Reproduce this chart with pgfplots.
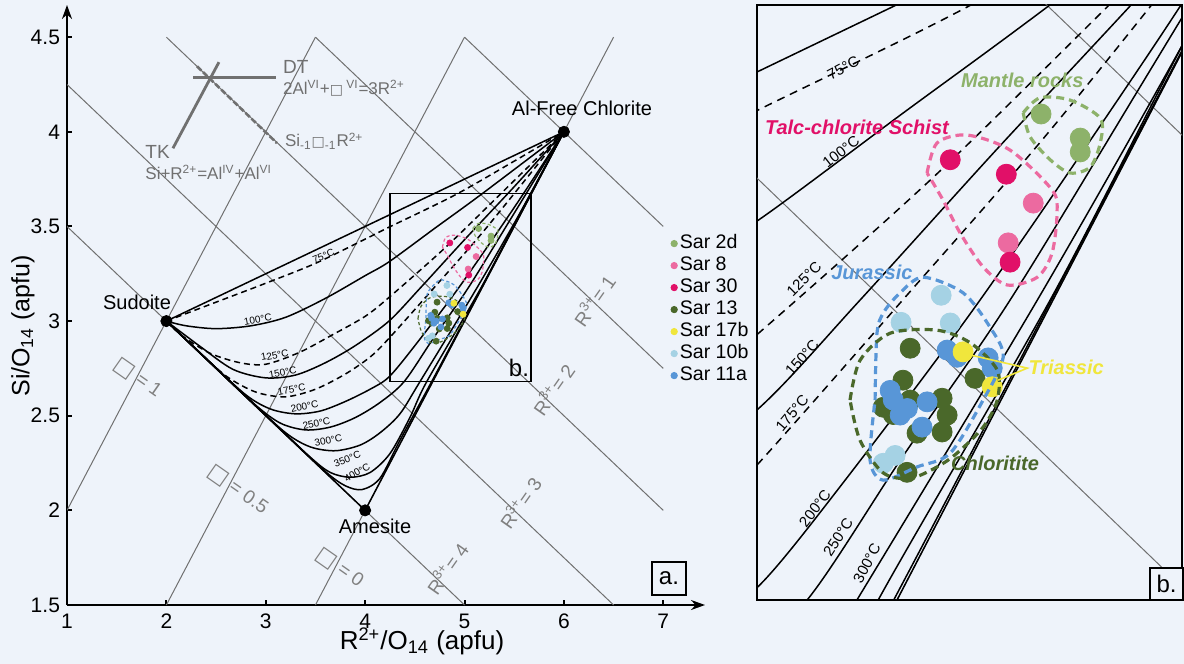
\documentclass[border=0pt]{standalone}
\usepackage{fontspec}
\setmainfont{Liberation Sans}
\newfontfamily\dejavu{DejaVu Sans}
\usepackage{pgfplots}
\usepackage{pgfplotstable}
\pgfplotsset{compat=1.18}
\usetikzlibrary{arrows.meta}

\definecolor{bg}{RGB}{238,243,250}
\definecolor{gl}{RGB}{112,112,112}
\definecolor{gt}{RGB}{128,128,128}
\definecolor{cA}{RGB}{141,178,106}
\definecolor{cB}{RGB}{236,106,160}
\definecolor{cC}{RGB}{225,16,104}
\definecolor{cD}{RGB}{74,104,42}
\definecolor{cE}{RGB}{240,230,60}
\definecolor{cF}{RGB}{165,210,228}
\definecolor{cG}{RGB}{88,150,215}
\newcommand{\sq}{{\dejavu □}}
\newcommand{\fs}[1]{\fontsize{#1}{#1}\selectfont}

% isotherms
\pgfplotstableread{
x y
2 3
6 4
}\tS
\pgfplotstableread{
x y
2 3
4 2
6 4
}\tE
\pgfplotstableread{
x y
2 3
2.5 3.1
3 3.2
3.5 3.305
4 3.433
4.24 3.496
4.9 3.665
5.5 3.845
6 4
}\tSF
\pgfplotstableread{
x y
2 3
2.2 2.975
2.5 2.96
2.85 2.975
3.2 3.02
3.6 3.12
4 3.24
4.24 3.313
4.7 3.49
5.17 3.67
6 4
}\tH
\pgfplotstableread{
x y
2 3
2.17 2.918
2.44 2.83
2.74 2.78
3 2.772
3.34 2.835
3.68 2.93
4 3.025
4.24 3.125
4.8 3.385
5.34 3.66
6 4
}\tHT
\pgfplotstableread{
x y
2 3
2.34 2.866
2.67 2.745
3 2.70
3.3 2.715
3.6 2.78
3.9 2.87
4.24 3.0
4.564 3.18
5 3.43
5.5 3.71
6 4
}\tHF
\pgfplotstableread{
x y
2 3
2.3 2.852
2.6 2.71
2.9 2.625
3.2 2.60
3.5 2.64
3.8 2.72
4.05 2.81
4.24 2.909
4.7 3.18
5.2 3.48
6 4
}\tHS
\pgfplotstableread{
x y
2 3
2.4 2.802
2.8 2.61
3.05 2.535
3.3 2.51
3.55 2.525
3.8 2.575
4.05 2.64
4.24 2.705
4.5 2.87
4.947 3.18
5.5 3.6
6 4
}\tTH
\pgfplotstableread{
x y
2 3
2.5 2.752
2.9 2.555
3.15 2.46
3.4 2.425
3.65 2.44
3.9 2.49
4.15 2.57
4.395 2.682
4.7 2.92
5.043 3.18
5.5 3.57
6 4
}\tTF
\pgfplotstableread{
x y
2 3
2.8 2.602
3.2 2.41
3.45 2.335
3.7 2.315
3.95 2.345
4.15 2.41
4.35 2.51
4.554 2.682
5.13 3.18
5.6 3.61
6 4
}\tTHH
\pgfplotstableread{
x y
2 3
3 2.502
3.45 2.28
3.65 2.2
3.85 2.175
4.05 2.2
4.25 2.3
4.45 2.49
4.622 2.682
5.171 3.18
5.6 3.61
6 4
}\tTFF
\pgfplotstableread{
x y
2 3
3.2 2.402
3.6 2.205
3.8 2.13
3.97 2.11
4.15 2.17
4.35 2.37
4.7 2.71
5.2 3.205
6 4
}\tFH

% envelopes
\pgfplotstableread{
x y
5.085 3.491
5.139 3.516
5.235 3.512
5.331 3.482
5.331 3.441
5.299 3.401
5.235 3.391
5.171 3.413
5.107 3.451
5.085 3.491
}\eM
\pgfplotstableread{
x y
4.778 3.391
4.810 3.441
4.906 3.454
5.043 3.429
5.177 3.363
5.193 3.325
5.177 3.258
5.130 3.218
5.034 3.205
4.957 3.235
4.884 3.291
4.829 3.346
4.778 3.391
}\eT
\pgfplotstableread{
x y
4.612 3.014
4.618 3.125
4.640 3.160
4.692 3.192
4.765 3.218
4.893 3.192
4.979 3.135
5.021 3.085
4.957 3.014
4.852 2.926
4.746 2.903
4.638 2.881
4.596 2.914
4.612 3.014
}\eJ
\pgfplotstableread{
x y
4.532 3.014
4.564 3.080
4.660 3.125
4.810 3.130
4.916 3.109
5.002 3.064
5.002 3.014
4.957 2.969
4.874 2.926
4.810 2.903
4.724 2.884
4.638 2.893
4.564 2.947
4.532 3.014
}\eC

% samples
\pgfplotstableread{
x y
5.142 3.489
5.267 3.449
5.267 3.426
}\sA
\pgfplotstableread{
x y
5.117 3.341
5.037 3.275
}\sB
\pgfplotstableread{
x y
4.852 3.413
5.031 3.389
5.043 3.243
}\sC
\pgfplotstableread{
x y
4.724 3.100
4.701 3.047
4.638 3.002
4.724 3.014
4.826 3.017
4.842 2.989
4.826 2.961
4.746 2.959
4.931 3.050
4.714 2.894
4.670 2.990
}\sD
\pgfplotstableread{
x y
4.893 3.094
4.986 3.036
}\sE
\pgfplotstableread{
x y
4.823 3.188
4.695 3.143
4.852 3.142
4.676 2.922
4.638 2.909
}\sF
\pgfplotstableread{
x y
4.842 3.097
4.874 3.085
4.973 3.084
4.986 3.067
4.670 3.014
4.692 2.989
4.778 3.011
4.762 2.969
4.715 3.000
4.660 3.030
}\sG

\pgfplotsset{
 iso/.style={black, line width=0.75pt, smooth, forget plot},
 isod/.style={iso, dash pattern=on 3pt off 2pt},
 gray line/.style={gl, line width=0.5pt, forget plot},
}

\newcommand{\isotherms}[1]{%
 \addplot[iso, sharp plot] table {\tS};
 \addplot[iso, sharp plot] table {\tE};
 \addplot[isod,#1] table {\tSF};
 \addplot[iso] table {\tH};
 \addplot[isod,#1] table {\tHT};
 \addplot[iso] table {\tHF};
 \addplot[isod,#1] table {\tHS};
 \addplot[iso] table {\tTH};
 \addplot[iso] table {\tTF};
 \addplot[iso] table {\tTHH};
 \addplot[iso] table {\tTFF};
 \addplot[iso] table {\tFH};
}
\newcommand{\graylines}{%
 \addplot[gray line] coordinates {(1,2) (3.5,4.5)};
 \addplot[gray line] coordinates {(2,1.5) (5,4.5)};
 \addplot[gray line] coordinates {(3.5,1.5) (6.5,4.5)};
 \addplot[gray line] coordinates {(5,4.5) (7,3.5)};
 \addplot[gray line] coordinates {(3.5,4.5) (7,2.75)};
 \addplot[gray line] coordinates {(2,4.5) (7,2)};
 \addplot[gray line] coordinates {(1,4.25) (6.5,1.5)};
 \addplot[gray line] coordinates {(1,3.5) (5,1.5)};
}
\newcommand{\samples}[1]{%
 \addplot[only marks, mark=*, mark size=#1, cD, forget plot] table {\sD};
 \addplot[only marks, mark=*, mark size=#1, cF, forget plot] table {\sF};
 \addplot[only marks, mark=*, mark size=#1, cG, forget plot] table {\sG};
 \addplot[only marks, mark=*, mark size=#1, cE, forget plot] table {\sE};
 \addplot[only marks, mark=*, mark size=#1, cA, forget plot] table {\sA};
 \addplot[only marks, mark=*, mark size=#1, cB, forget plot] table {\sB};
 \addplot[only marks, mark=*, mark size=#1, cC, forget plot] table {\sC};
}
\newcommand{\envelopes}[2]{%
 \addplot[cA, smooth, line width=#1, dash pattern=#2, forget plot] table {\eM};
 \addplot[cB, smooth, line width=#1, dash pattern=#2, forget plot] table {\eT};
 \addplot[cG, smooth, line width=#1, dash pattern=#2, forget plot] table {\eJ};
 \addplot[cD, smooth, line width=#1, dash pattern=#2, forget plot] table {\eC};
}

\begin{document}
\begin{tikzpicture}
\useasboundingbox (0,0) rectangle (592pt,-332pt);
\fill[bg] (0,0) rectangle (592pt,-332pt);

% ---------------- panel a ----------------
\begin{axis}[
 at={(33.5pt,-302.5pt)}, anchor=south west, scale only axis,
 width=319pt, height=300pt,
 xmin=1, xmax=7.42, ymin=1.5, ymax=4.67,
 axis lines=left,
 axis line style={line width=0.9pt, -{Stealth[length=7pt,width=5pt]}},
 xtick={1,2,3,4,5,6,7}, ytick={1.5,2,2.5,3,3.5,4,4.5},
 tick align=inside, major tick length=2.5pt,
 tick style={line width=1pt, black},
 ticklabel style={font=\fs{10.5}},
 xticklabel style={yshift=-1pt},
 /pgf/number format/assume math mode=true,
 clip mode=individual,
 legend style={at={(0.936,0.628)}, anchor=north west, draw=none, fill=none,
   font=\fs{9.8}, nodes={text height=7pt, text depth=2pt, inner sep=1pt},
   /tikz/every even column/.append style={column sep=5.5pt}},
 legend cell align=left,
 legend image code/.code={\fill[#1] (0pt,0pt) circle (1.6pt);},
]
\graylines
\isotherms{}
\addplot[only marks, mark=*, mark size=2.8pt, black, forget plot] coordinates {(2,3) (4,2) (6,4)};
\envelopes{0.6pt}{on 1.6pt off 1.2pt}
\samples{1.5pt}
\addplot[black, line width=0.6pt, sharp plot, forget plot] coordinates {(4.25,2.68) (5.67,2.68) (5.67,3.675) (4.25,3.675) (4.25,2.68)};
% DT / TK
\addplot[gl, line width=1.4pt, forget plot] coordinates {(2.066,3.913) (2.529,4.368)};
\addplot[gl, line width=1.4pt, forget plot] coordinates {(2.268,4.288) (3.103,4.288)};
\addplot[gl, line width=1.3pt, dash pattern=on 3pt off 1.2pt, forget plot] coordinates {(2.308,4.346) (3.113,3.94)};

\addlegendimage{cA}\addlegendentry{Sar 2d}
\addlegendimage{cB}\addlegendentry{Sar 8}
\addlegendimage{cC}\addlegendentry{Sar 30}
\addlegendimage{cD}\addlegendentry{Sar 13}
\addlegendimage{cE}\addlegendentry{Sar 17b}
\addlegendimage{cF}\addlegendentry{Sar 10b}
\addlegendimage{cG}\addlegendentry{Sar 11a}

\begin{scope}[every node/.style={text=gl, font=\fs{8.5}, inner sep=0pt}]
\node[anchor=west] at (axis cs:3.17,4.34) {\fs{9.5}DT};
\node[anchor=west] at (axis cs:3.17,4.23) {2Al\textsuperscript{VI}+{\fs{7}\sq}\textsuperscript{ VI}=3R\textsuperscript{2+}};
\node[anchor=west] at (axis cs:3.19,3.95) {Si\textsubscript{-1}{\fs{7}\sq}\textsubscript{-1}R\textsuperscript{2+}};
\node[anchor=west] at (axis cs:1.785,3.895) {\fs{9.5}TK};
\node[anchor=west] at (axis cs:1.785,3.786) {Si+R\textsuperscript{2+}=Al\textsuperscript{IV}+Al\textsuperscript{VI}};
\end{scope}
\begin{scope}[every node/.style={text=gt, font=\fs{9.5}, inner sep=0pt}]
\node[rotate=55] at (axis cs:6.30,3.11) {R\textsuperscript{3+}= 1};
\node[rotate=55] at (axis cs:5.89,2.64) {R\textsuperscript{3+}= 2};
\node[rotate=55] at (axis cs:5.557,2.04) {R\textsuperscript{3+}= 3};
\node[rotate=55] at (axis cs:4.82,1.696) {R\textsuperscript{3+}= 4};
\node[rotate=-35] at (axis cs:1.714,2.70) {{\fs{11}\sq}\ = 1};
\node[rotate=-35] at (axis cs:2.72,2.108) {{\fs{11}\sq}\ = 0.5};
\node[rotate=-35] at (axis cs:3.746,1.696) {{\fs{11}\sq}\ = 0};
\end{scope}
\begin{scope}[every node/.style={font=\fs{5}, inner sep=0pt}]
\node[rotate=22] at (axis cs:3.58,3.345) {75°C};
\node[rotate=10] at (axis cs:2.92,3.01) {100°C};
\node[rotate=10] at (axis cs:3.09,2.82) {125°C};
\node[rotate=10] at (axis cs:3.17,2.73) {150°C};
\node[rotate=10] at (axis cs:3.26,2.64) {175°C};
\node[rotate=12] at (axis cs:3.39,2.55) {200°C};
\node[rotate=12] at (axis cs:3.51,2.46) {250°C};
\node[rotate=12] at (axis cs:3.63,2.37) {300°C};
\node[rotate=22] at (axis cs:3.82,2.27) {350°C};
\node[rotate=30] at (axis cs:3.92,2.20) {400°C};
\end{scope}
\end{axis}

% ---------------- panel b ----------------
\begin{axis}[
 at={(378.5pt,-300pt)}, anchor=south west, scale only axis,
 width=212.5pt, height=297.5pt,
 xmin=4.235, xmax=5.592, ymin=2.682, ymax=3.67,
 xtick=\empty, ytick=\empty,
 axis line style={line width=0.6pt},
 clip mode=individual,
]
\graylines
\pgfplotsset{isod/.style={iso, dash pattern=on 4pt off 3pt}}
\isotherms{}
\samples{5pt}
\envelopes{1.6pt}{on 4pt off 2.5pt}
\addplot[cE, line width=0.8pt, forget plot] coordinates {(4.915,3.089) (5.098,3.067) (5.005,3.047)};
\begin{scope}[every node/.style={font=\bfseries\itshape\fs{10}, inner sep=0pt}]
\node[text=cA] at (axis cs:5.082,3.545) {Mantle rocks};
\node[text=cC] at (axis cs:4.554,3.467) {Talc-chlorite Schist};
\node[text=cG] at (axis cs:4.602,3.226) {Jurassic};
\node[text=cE] at (axis cs:5.222,3.069) {Triassic};
\node[text=cD] at (axis cs:4.995,2.909) {Chloritite};
\end{scope}
\begin{scope}[every node/.style={font=\fs{7.5}, inner sep=0pt}]
\node[rotate=28] at (axis cs:4.51,3.565) {75°C};
\node[rotate=38] at (axis cs:4.503,3.426) {100°C};
\node[rotate=45] at (axis cs:4.385,3.215) {125°C};
\node[rotate=48] at (axis cs:4.379,3.084) {150°C};
\node[rotate=50] at (axis cs:4.347,2.992) {175°C};
\node[rotate=53] at (axis cs:4.42,2.834) {200°C};
\node[rotate=57] at (axis cs:4.494,2.786) {250°C};
\node[rotate=62] at (axis cs:4.586,2.743) {300°C};
\end{scope}
\end{axis}

% labels
\node[rotate=90, font=\fs{12.5}] at (11.5pt,-163pt) {Si/O\textsubscript{14} (apfu)};
\node[font=\fs{13}] at (211pt,-320.5pt) {R\textsuperscript{2+}/O\textsubscript{14} (apfu)};
\node[font=\fs{10}] at (68.5pt,-151pt) {Sudoite};
\node[font=\fs{10}] at (187.5pt,-263pt) {Amesite};
\node[font=\fs{10}] at (291pt,-54pt) {Al-Free Chlorite};
\draw[line width=0.6pt] (326pt,-281pt) rectangle (343pt,-297.5pt);
\node[font=\fs{12}] at (334.5pt,-289pt) {a.};
\node[font=\fs{12}] at (259.5pt,-184pt) {b.};
\draw[line width=0.6pt, fill=bg] (575pt,-284pt) rectangle (591.5pt,-300pt);
\node[font=\fs{12}] at (583.25pt,-292pt) {b.};
\end{tikzpicture}
\end{document}
